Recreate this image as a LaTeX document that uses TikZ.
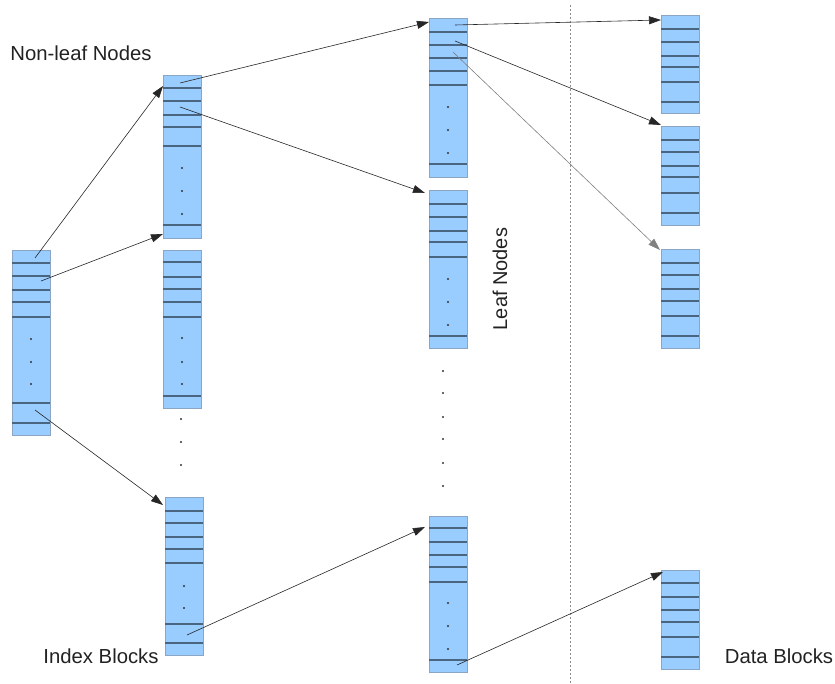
\documentclass[tikz,border=0pt]{standalone}
\usepackage{fontspec}
\setmainfont{Liberation Sans}
\usetikzlibrary{arrows.meta,calc}
\definecolor{blkfill}{HTML}{99CCFF}
\definecolor{blkedge}{HTML}{8AA6C4}
\definecolor{sepc}{HTML}{4A6580}
\definecolor{dotc}{HTML}{333333}
\definecolor{txtc}{HTML}{222222}
\tikzset{
  blk/.style={draw=blkedge, fill=blkfill, line width=0.9pt, inner sep=0pt, anchor=north west, minimum width=38pt},
  sepline/.style={draw=sepc, line width=1.1pt},
  conn/.style={draw=black!85, line width=0.6pt, -{Triangle[length=12pt,width=8pt]}},
  connlight/.style={draw=black!50, line width=0.6pt, -{Triangle[length=12pt,width=8pt]}},
  lbl/.style={font=\fontsize{20.3}{23}\selectfont, text=txtc, inner sep=0pt},
}
\newcommand\myblock[6]{%
  \node[blk, minimum height={(#4-#3)*1pt}] (#1) at (#2,#3) {};
  \foreach \yy in {#5} {\draw[sepline] (#2,\yy) -- ++(38,0);}
  \foreach \yy in {#6} {\fill[dotc] (#2+19,\yy) circle (1.1);}
}
\begin{document}
\begin{tikzpicture}[x=1pt,y=-1pt]
\useasboundingbox (0,0) rectangle (835,684);
\draw[black!45, line width=0.5pt, dash pattern=on 2pt off 2pt] (570,5) -- (570,684);

\myblock{root}{12}{250}{435}{263,276,290,302,317,403,423}{339,362,384}
\myblock{bb}{163}{75}{238}{88,101,115,127,146,225}{168,191,214}
\myblock{bc}{163}{250}{408}{262,277,289,302,317,396}{338,362,384}
\myblock{bd}{165}{497}{655}{511,523,537,549,563,624,643}{586,608}
\myblock{la}{429}{18}{177}{32,45,58,71,85,164}{107,130,153}
\myblock{lb}{429}{190}{348}{204,217,231,242,257,336}{279,302,325}
\myblock{lc}{429}{516}{672}{528,542,555,567,582,660}{603,626,649}
\myblock{da}{661}{15}{113}{29,42,56,67,82,102}{}
\myblock{db}{661}{126}{225}{140,152,166,177,193,213}{}
\myblock{dc}{661}{249}{348}{263,275,289,301,316,336}{}
\myblock{dd}{661}{570}{669}{583,597,610,622,637,657}{}

\foreach \yy in {419,442,465} {\fill[dotc] (181,\yy) circle (1.1);}
\foreach \yy in {371,393,417,439,463,486} {\fill[dotc] (443,\yy) circle (1.1);}

\draw[conn] ($(root.north west)+(23,8)$) -- ($(bb.north west)+(0,11)$);
\draw[conn] ($(root.north west)+(29,31)$) -- ($(bb.north west)+(0,159)$);
\draw[conn] ($(root.north west)+(23,160)$) -- ($(bd.north west)+(-2,8)$);
\draw[conn] ($(bb.north west)+(17,8)$) -- ($(la.north west)+(0,4)$);
\draw[conn] ($(bb.north west)+(17,32)$) -- ($(lb.north west)+(-4,3)$);
\draw[conn] ($(bd.north west)+(22,138)$) -- ($(lc.north west)+(-4,11)$);
\draw[conn] ($(la.north west)+(26,7)$) -- ($(da.north west)+(0,5)$);
\draw[conn] ($(la.north west)+(26,23)$) -- ($(db.north west)+(0,-1)$);
\draw[connlight] ($(la.north west)+(24,34)$) -- ($(dc.north west)+(-1,1)$);
\draw[conn] ($(lc.north west)+(28,149)$) -- ($(dd.north west)+(2,2)$);

\node[lbl] (nonleaf) at (81,53) {Non-leaf Nodes};
\node[lbl] (index) at (101,656) {Index Blocks};
\node[lbl] (data) at (779,656) {Data Blocks};
\node[lbl, rotate=90, font=\fontsize{20}{23}\selectfont] (leaf) at (500,279) {Leaf Nodes};
\end{tikzpicture}
\end{document}
